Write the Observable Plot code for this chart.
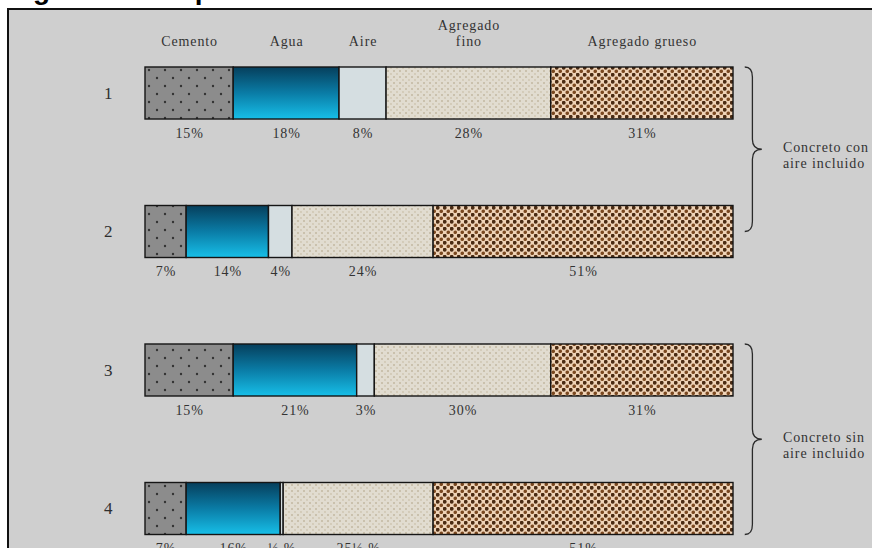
<!DOCTYPE html>
<html><head><meta charset="utf-8">
<script src="https://cdn.jsdelivr.net/npm/d3@7"></script>
<script src="https://cdn.jsdelivr.net/npm/@observablehq/plot@0.6"></script>
<style>
html,body{margin:0;padding:0;background:#fff;overflow:hidden;width:872px;height:548px;}
#title{position:absolute;left:0;top:0;width:872px;height:8px;overflow:hidden;}
#title span{position:absolute;left:8px;top:-24px;font:bold 28px "Liberation Sans",Arial,sans-serif;line-height:28px;white-space:nowrap;color:#000;}
#panel{position:absolute;left:7px;top:8px;width:863px;height:538px;border-left:2px solid #111;border-top:2px solid #111;background:#cfcfcf;overflow:hidden;}
#panel svg text{letter-spacing:0.9px;}
</style></head>
<body>
<div id="title"><span>Figura 1. Composición del concreto</span></div>
<div id="panel"></div>
<script>
// ---- data ----
const rows = ["1", "2", "3", "4"];
const components = ["Cemento", "Agua", "Aire", "Agregado fino", "Agregado grueso"];
const headerLabels = ["Cemento", "Agua", "Aire", "Agregado\nfino", "Agregado grueso"];
const row1 = [15, 18, 8, 28, 31];
const row2 = [7, 14, 4, 24, 51];
const row3 = [15, 21, 3, 30, 31];
const row4 = [7, 16, 0.5, 25.5, 51];
const labels1 = ["15%", "18%", "8%", "28%", "31%"];
const labels2 = ["7%", "14%", "4%", "24%", "51%"];
const labels3 = ["15%", "21%", "3%", "30%", "31%"];
const labels4 = ["7%", "16%", "½ %", "25½ %", "51%"];
const groupLabels = ["Concreto con\naire incluido", "Concreto sin\naire incluido"];
const groupRows = [["1", "2"], ["3", "4"]];

const rowValues = [row1, row2, row3, row4];
const rowLabels = [labels1, labels2, labels3, labels4];
const table = [];
rowValues.forEach((vals, i) => vals.forEach((v, j) => table.push({
  row: rows[i], comp: components[j], value: v, label: rowLabels[i][j], header: headerLabels[j]
})));

const fills = ["url(#pat-cemento)", "url(#grad-agua)", "#d5dee1", "url(#pat-fino)", "url(#pat-grueso)"];
const serif = "Liberation Serif, Times New Roman, serif";

const plot = Plot.plot({
  width: 863, height: 538,
  marginLeft: 136, marginRight: 139, marginTop: 57, marginBottom: 13.5,
  style: {background: "#cfcfcf", color: "#2e2e2e", overflow: "hidden"},
  x: {domain: [0, 100], axis: null},
  y: {domain: rows, paddingInner: 0.6245, paddingOuter: 0, round: false, axis: null},
  color: {domain: components, range: fills},
  marks: [
    Plot.axisY({tickSize: 0, tickPadding: 32, fontSize: 17, fontFamily: serif, label: null}),
    Plot.barX(table, {x: "value", y: "row", fill: "comp", stroke: "#151515", strokeWidth: 1.4}),
    Plot.text(table, Plot.stackX({x: "value", y: "row", text: "label", dy: 40, fontSize: 14, fontFamily: serif, fill: "#333"})),
    Plot.text(table.filter(d => d.row === rows[0]), Plot.stackX({
      x: "value", y: "row", text: "header", lineAnchor: "bottom", dy: -48,
      fontSize: 14, lineHeight: 1.1, fontFamily: serif, fill: "#333"
    }))
  ]
});

// ---- patterns ----
const svg = d3.select(plot);
const defs = svg.insert("defs", ":first-child");
const pc = defs.append("pattern").attr("id", "pat-cemento").attr("patternUnits", "userSpaceOnUse").attr("width", 16).attr("height", 16);
pc.append("rect").attr("width", 16).attr("height", 16).attr("fill", "#8c8c8c");
pc.append("circle").attr("cx", 4).attr("cy", 4).attr("r", 1.2).attr("fill", "#333");
pc.append("circle").attr("cx", 12).attr("cy", 12).attr("r", 1.2).attr("fill", "#333");

const ga = defs.append("linearGradient").attr("id", "grad-agua").attr("x1", 0).attr("y1", 0).attr("x2", 0).attr("y2", 1);
ga.append("stop").attr("offset", "0").attr("stop-color", "#063f5c");
ga.append("stop").attr("offset", "0.5").attr("stop-color", "#0a7ca6");
ga.append("stop").attr("offset", "1").attr("stop-color", "#17bfe8");

const pf = defs.append("pattern").attr("id", "pat-fino").attr("patternUnits", "userSpaceOnUse").attr("width", 6).attr("height", 6);
pf.append("rect").attr("width", 6).attr("height", 6).attr("fill", "#e1dcd0");
pf.append("circle").attr("cx", 1).attr("cy", 1).attr("r", 0.75).attr("fill", "#a8987a");
pf.append("circle").attr("cx", 4).attr("cy", 4).attr("r", 0.65).attr("fill", "#bcae92");

const pg = defs.append("pattern").attr("id", "pat-grueso").attr("patternUnits", "userSpaceOnUse").attr("width", 7).attr("height", 7);
pg.append("rect").attr("width", 7).attr("height", 7).attr("fill", "#efd3b7");
pg.append("circle").attr("cx", 1.75).attr("cy", 1.75).attr("r", 1.9).attr("fill", "#4a2b13");
pg.append("circle").attr("cx", 5.25).attr("cy", 5.25).attr("r", 1.8).attr("fill", "#7a4820");

// ---- braces ----
const xs = plot.scale("x"), ys = plot.scale("y");
const bw = ys.bandwidth;
const xEnd = xs.apply(102.0), xV = xs.apply(103.3), xTip = xs.apply(104.9), xText = xs.apply(108.5);
groupRows.forEach(([a, b], i) => {
  const yTop = ys.apply(a);
  const yBot = i === 0 ? ys.apply(b) + bw / 2 : ys.apply(b) + bw;
  const yMid = (yTop + yBot) / 2, r = 10;
  svg.append("path")
    .attr("d", `M${xEnd},${yTop} Q${xV},${yTop} ${xV},${yTop + r} L${xV},${yMid - r} Q${xV},${yMid} ${xTip},${yMid} Q${xV},${yMid} ${xV},${yMid + r} L${xV},${yBot - r} Q${xV},${yBot} ${xEnd},${yBot}`)
    .attr("fill", "none").attr("stroke", "#2a2a2a").attr("stroke-width", 1.3);
  const t = svg.append("text").attr("font-family", serif).attr("font-size", 14)
    .attr("fill", "#333").attr("text-anchor", "start");
  groupLabels[i].split("\n").forEach((line, k) => {
    t.append("tspan").attr("x", xText).attr("y", yMid + 3 + k * 16).text(line);
  });
});

document.getElementById("panel").appendChild(plot);
</script>
</body></html>
